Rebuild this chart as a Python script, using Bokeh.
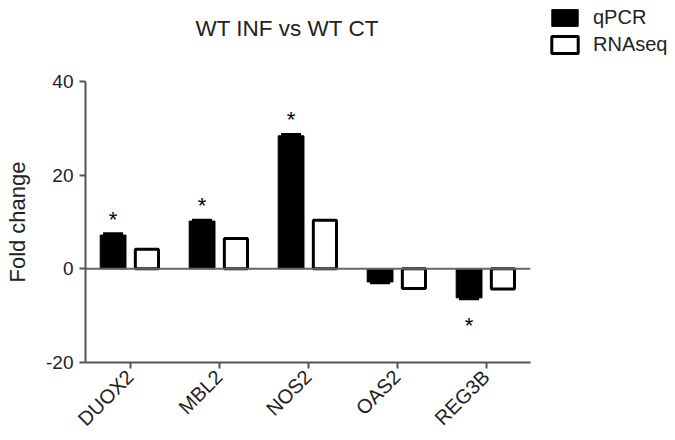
import math
from bokeh.plotting import figure
from bokeh.layouts import column
from bokeh.models import (FactorRange, Range1d, FixedTicker, Whisker, ColumnDataSource, Span,
                          TeeHead, Legend, LegendItem, PrintfTickFormatter, Label)
from bokeh.transform import dodge
from bokeh.core.properties import value
from bokeh.embed import file_html
from bokeh.resources import INLINE

# ---- data ----
genes = ["DUOX2", "MBL2", "NOS2", "OAS2", "REG3B"]
qpcr = [7.2, 10.2, 28.4, -2.8, -6.2]
qpcr_err = [0.4, 0.3, 0.4, 0.3, 0.3]
rnaseq = [4.2, 6.5, 10.4, -4.2, -4.3]
significant = [True, True, True, False, True]
y_ticks = [-20, 0, 20, 40]
series_names = ["qPCR", "RNAseq"]
title_text = "WT INF vs WT CT"
y_label = "Fold change"

FONT = "Liberation Sans"
AX = "#555555"
W = 667
HEAD_H = 60
MAIN_H = 380

hi = [v + e if v >= 0 else v for v, e in zip(qpcr, qpcr_err)]
lo = [v if v >= 0 else v - e for v, e in zip(qpcr, qpcr_err)]
stars = ["*" if s else "" for s in significant]
star_off = [-16 if v >= 0 else 28 for v in qpcr]

src = ColumnDataSource(dict(gene=genes, qpcr=qpcr, rnaseq=rnaseq, hi=hi, lo=lo,
                            star=stars, star_off=star_off))

# ---- header (title + legend); its ranges do not show the gene bars, which only feed the legend ----
head = figure(width=W, height=HEAD_H, x_range=FactorRange(*series_names), y_range=Range1d(100, 160),
              x_axis_type=None, y_axis_type=None, min_border=0,
              min_border_left=0, min_border_right=0, min_border_top=0, min_border_bottom=0,
              output_backend="svg", toolbar_location=None)
head.frame_align = False
head.xgrid.visible = False
head.ygrid.visible = False
head.outline_line_color = None

d_q = head.vbar(x="gene", top="qpcr", bottom=0, width=0.3, fill_color="black",
                line_color="black", line_width=1, source=src)
d_r = head.vbar(x="gene", top="rnaseq", bottom=0, width=0.3, fill_color="white",
                line_color="black", line_width=3, source=src)

head.add_layout(Label(x=195, y=32, x_units="screen", y_units="screen", text=title_text,
                      text_font=FONT, text_font_size="22.5px", text_color="#222222",
                      text_baseline="alphabetic", text_align="left"))

lg = Legend(items=[LegendItem(label=series_names[0], renderers=[d_q]),
                   LegendItem(label=series_names[1], renderers=[d_r])])
lg.location = (548, 4)
lg.padding = 0
lg.margin = 0
lg.spacing = 4
lg.border_line_color = None
lg.background_fill_alpha = 0
lg.glyph_width = 33
lg.glyph_height = 21
lg.label_height = 21
lg.label_standoff = 12
lg.label_text_font = FONT
lg.label_text_font_size = "20px"
lg.label_text_color = "#222222"
head.add_layout(lg)

# ---- main chart ----
p = figure(x_range=FactorRange(*genes), y_range=Range1d(-20, 40),
           width=W, height=MAIN_H,
           min_border_left=85, min_border_right=137, min_border_top=21, min_border_bottom=78,
           output_backend="svg", toolbar_location=None)
p.frame_align = False

zero = Span(location=0, dimension="width", line_color="#666666", line_width=2)
p.add_layout(zero)

p.vbar(x=dodge("gene", -0.19, range=p.x_range), top="qpcr", bottom=0, width=0.29,
       fill_color="black", line_color="black", line_width=1, source=src)
p.vbar(x=dodge("gene", 0.19, range=p.x_range), top="rnaseq", bottom=0, width=0.26,
       fill_color="white", line_color="black", line_width=3, source=src)

wh = Whisker(base=dodge("gene", -0.19, range=p.x_range), upper="hi", lower="lo", source=src,
             dimension="height", line_color="black", line_width=2,
             upper_head=TeeHead(size=20, line_color="black", line_width=2),
             lower_head=TeeHead(size=20, line_color="black", line_width=2))
p.add_layout(wh)

p.text(x=dodge("gene", -0.19, range=p.x_range), y="qpcr", text="star", y_offset="star_off",
       source=src, text_align="center", text_baseline="middle",
       text_font=value(FONT), text_font_size="22px", text_color="black")

for ax in (p.xaxis[0], p.yaxis[0]):
    ax.axis_line_color = AX
    ax.axis_line_width = 2
    ax.major_tick_line_color = AX
    ax.major_tick_line_width = 2
    ax.major_tick_out = 6
    ax.major_tick_in = 0
    ax.minor_tick_line_color = None
    ax.major_label_text_font = FONT
    ax.major_label_text_color = "#222222"

p.xaxis.major_label_text_font_size = "20px"
p.xaxis.major_label_orientation = math.pi / 4
p.xaxis.major_label_standoff = 5
p.yaxis.major_label_text_font_size = "19px"
p.yaxis.ticker = FixedTicker(ticks=y_ticks)
p.yaxis.formatter = PrintfTickFormatter(format="%d")
p.yaxis.major_label_standoff = 6
p.yaxis.axis_label = y_label
p.yaxis.axis_label_text_font = FONT
p.yaxis.axis_label_text_font_size = "22px"
p.yaxis.axis_label_text_font_style = "normal"
p.yaxis.axis_label_text_color = "#222222"
p.yaxis.axis_label_standoff = 13

p.xgrid.visible = False
p.ygrid.visible = False
p.outline_line_color = None

layout = column(head, p, spacing=0)
open("out.html", "w").write(file_html(layout, INLINE))
